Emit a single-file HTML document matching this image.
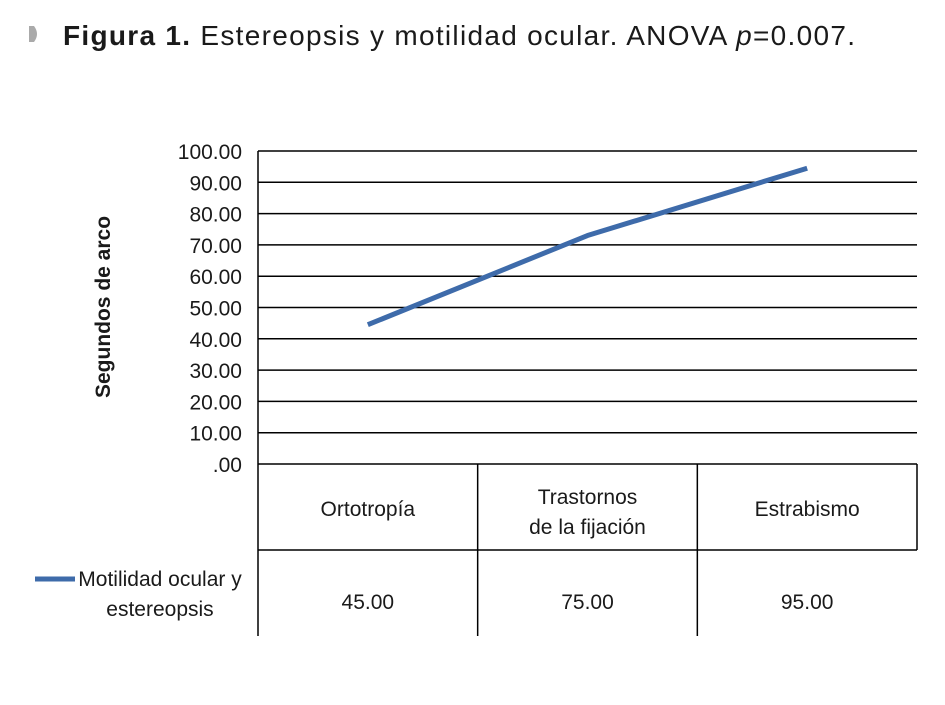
<!DOCTYPE html>
<html><head><meta charset="utf-8">
<style>
html,body{margin:0;padding:0;background:#fff;}
body{width:945px;height:700px;overflow:hidden;position:relative;}
svg text{font-family:"Liberation Sans Narrow","Liberation Sans",sans-serif;fill:#1a1a1a;}
</style></head>
<body>
<svg id="chart" width="945" height="700" viewBox="0 0 945 700" xmlns="http://www.w3.org/2000/svg">
  <path d="M29 26 L34 26 Q40 34 34 42 L29 42 Z" fill="#aaa"/>
  <text x="63" y="45" font-size="28" textLength="792" lengthAdjust="spacing" style="font-family:'Liberation Sans',sans-serif"><tspan font-weight="bold">Figura 1.</tspan> Estereopsis y motilidad ocular. ANOVA <tspan font-style="italic">p</tspan>=0.007.</text>
  <text transform="translate(110,307) rotate(-90)" text-anchor="middle" font-size="21" font-weight="bold">Segundos de arco</text>
  <g id="grid"></g>
  <g id="table"></g>
  <polyline id="series-line" fill="none" stroke="#3e6baa" stroke-width="5" stroke-linejoin="round"/>
  <line x1="35" y1="579" x2="75" y2="579" stroke="#3e6baa" stroke-width="5"/>
  <text font-size="21" text-anchor="middle"><tspan x="160" y="586">Motilidad ocular y</tspan><tspan x="160" y="616">estereopsis</tspan></text>
</svg>
<script>
const categories = [["Ortotropía"], ["Trastornos", "de la fijación"], ["Estrabismo"]];
const lineValues = [44.5, 73, 94.5];
const tableValues = ["45.00", "75.00", "95.00"];
const yTicks = [0, 10, 20, 30, 40, 50, 60, 70, 80, 90, 100];
const yTickLabels = [".00", "10.00", "20.00", "30.00", "40.00", "50.00", "60.00", "70.00", "80.00", "90.00", "100.00"];

const NS = "http://www.w3.org/2000/svg";
const L = 258, R = 917, T = 151, B = 464;
const colW = (R - L) / categories.length;
function y(v) { return B - (v / 100) * (B - T); }
function xc(i) { return L + colW * (i + 0.5); }
function mk(tag, attrs, parent) {
  const e = document.createElementNS(NS, tag);
  for (const k in attrs) e.setAttribute(k, attrs[k]);
  parent.appendChild(e);
  return e;
}
const grid = document.getElementById("grid");
yTicks.forEach((t, i) => {
  const ln = mk("line", {x1: L, x2: R, y1: y(t), y2: y(t), stroke: "#000", "stroke-width": 1.5}, grid);
  
  
  const tx = mk("text", {x: 242, y: y(t) + 8, "text-anchor": "end", "font-size": 21}, grid);
  tx.textContent = yTickLabels[i];
  
  
});
const axis = mk("line", {x1: L, x2: L, y1: T, y2: B, stroke: "#000", "stroke-width": 1.5}, grid);



const table = document.getElementById("table");
for (let i = 0; i <= categories.length; i++) {
  const x = L + colW * i;
  const v = mk("line", {x1: x, x2: x, y1: B, y2: i === categories.length ? 550 : 636, stroke: "#000", "stroke-width": 1.5}, table);
  
  
}
const hl = mk("line", {x1: L, x2: R, y1: 550, y2: 550, stroke: "#000", "stroke-width": 1.5}, table);


categories.forEach((c, i) => {
  const tx = mk("text", {"text-anchor": "middle", "font-size": 21}, table);
  
  
  const y0 = c.length === 1 ? 516 : 504;
  c.forEach((s, j) => {
    const ts = mk("tspan", {x: xc(i), y: y0 + j * 30}, tx);
    ts.textContent = s;
  });
  const vt = mk("text", {x: xc(i), y: 609, "text-anchor": "middle", "font-size": 21}, table);
  vt.textContent = tableValues[i];
  
  
});
document.getElementById("series-line").setAttribute("points",
  lineValues.map((v, i) => xc(i) + "," + y(v)).join(" "));
</script>
</body></html>
